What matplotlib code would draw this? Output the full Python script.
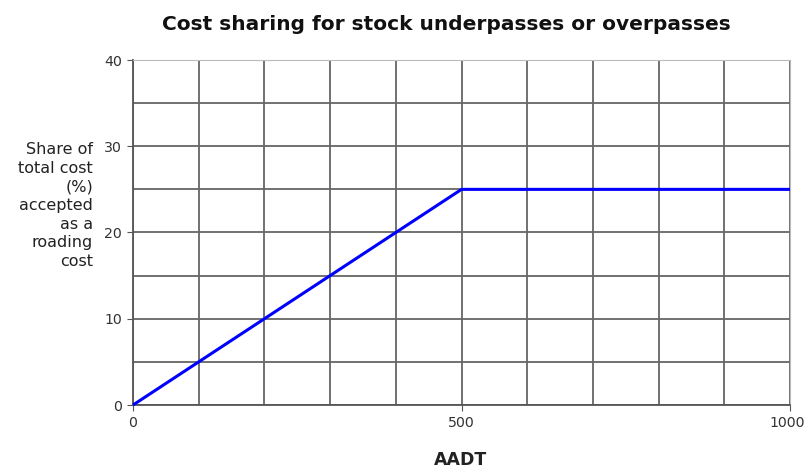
import matplotlib
matplotlib.use("Agg")
import matplotlib.pyplot as plt
from matplotlib.ticker import MultipleLocator
from matplotlib.transforms import ScaledTranslation

aadt = [0, 500, 1000]
share = [0, 25, 25]
x_ticks = [0, 500, 1000]
y_ticks = [0, 10, 20, 30, 40]

fig = plt.figure(figsize=(8.06, 4.73), dpi=100)
ax = fig.add_axes([133/806, 1-405/473, (790-133)/806, (405-60)/473])

ax.set_xlim(0, 1000)
ax.set_ylim(0, 40)
ax.xaxis.set_minor_locator(MultipleLocator(100))
ax.yaxis.set_minor_locator(MultipleLocator(5))
ax.set_xticks(x_ticks)
ax.set_yticks(y_ticks)
ax.grid(which='both', color='#666666', linewidth=1.3)
ax.set_axisbelow(True)
ax.tick_params(which='minor', length=0)
ax.tick_params(which='major', length=4, color='#555555', labelsize=10.2, labelcolor='#333333', pad=4)
for s in ['top', 'right']:
    ax.spines[s].set_color('#bbbbbb')
for s in ['left', 'bottom']:
    ax.spines[s].set_color('#555555')
    ax.spines[s].set_linewidth(1.3)

ax.plot(aadt, share, color='#0000ff', linewidth=2.2, solid_capstyle='butt', zorder=3, clip_on=False)

fig.canvas.draw()
last = ax.get_xticklabels()[-1]
last.set_transform(last.get_transform() + ScaledTranslation(-3/100, 0, fig.dpi_scale_trans))

fig.text(446.5/806, 1-24/473, "Cost sharing for stock underpasses or overpasses",
         ha='center', va='center', fontsize=14.5, fontweight='bold', color='#111111')
fig.text(461/806, 1-460/473, "AADT", ha='center', va='center',
         fontsize=12.5, fontweight='bold', color='#222222')
fig.text(93/806, 1-205.5/473, "Share of\ntotal cost\n(%)\naccepted\nas a\nroading\ncost",
         ha='right', va='center', fontsize=11.5, color='#222222', linespacing=1.3,
         multialignment='right')

fig.savefig("out.png", dpi=100)
